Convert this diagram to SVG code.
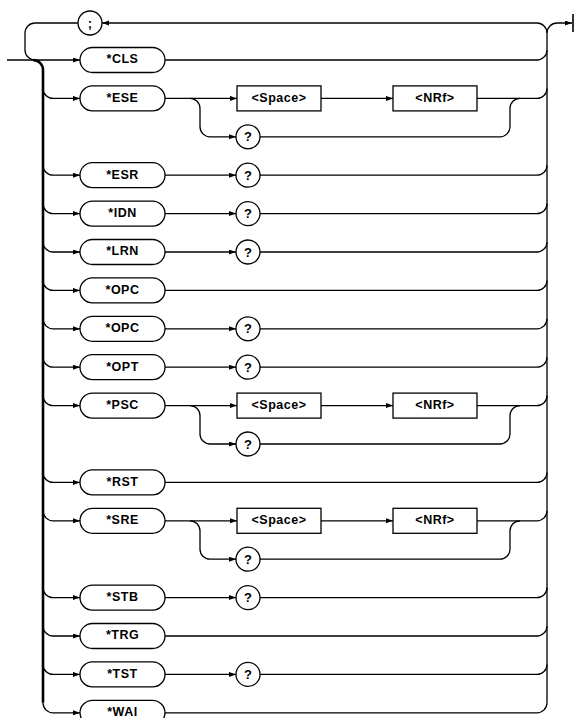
<svg xmlns="http://www.w3.org/2000/svg" width="574" height="718" viewBox="0 0 574 718">
<defs>
<marker id="ah" markerUnits="userSpaceOnUse" markerWidth="8" markerHeight="6" refX="7" refY="2.5" orient="auto">
<path d="M0,0 L7,2.5 L0,5 z" fill="#000"/>
</marker>
<style>
.c{fill:none;stroke:#000;stroke-width:1.3}
.a{marker-end:url(#ah)}
.n{fill:#fff;stroke:#000;stroke-width:1.3}
.t{font-family:"Liberation Sans",Arial,sans-serif;font-weight:bold;font-size:12.5px;letter-spacing:0.5px;text-anchor:middle;fill:#000}
.q{font-family:"Liberation Sans",Arial,sans-serif;font-weight:bold;font-size:13px;text-anchor:middle;fill:#000}
</style>
</defs>
<rect width="574" height="718" fill="#fff"/>
<g id="connectors">
<path class="c a" d="M7,60 L80,60"/>
<path class="c a" d="M537,23 L102,23"/>
<path class="c" d="M78,23 L35,23 A10,10 0 0 0 25,33 L25,50 A10,10 0 0 0 35,60"/>
<path class="c" d="M537,23 A10,10 0 0 1 547,33 L547,702.8"/>
<path class="c a" d="M547,33 A10,10 0 0 1 557,23 L572,23"/>
<path class="c" style="stroke-width:1.6" d="M573,14 L573,32"/>
<path class="c" style="stroke-width:2.6" d="M33,60 A10,10 0 0 1 43,70 L43,702.8"/>
<path class="c a" d="M43,88.4 A10,10 0 0 0 53,98.4 L80,98.4"/>
<path class="c a" d="M43,165.2 A10,10 0 0 0 53,175.2 L80,175.2"/>
<path class="c a" d="M43,203.6 A10,10 0 0 0 53,213.6 L80,213.6"/>
<path class="c a" d="M43,242 A10,10 0 0 0 53,252 L80,252"/>
<path class="c a" d="M43,280.4 A10,10 0 0 0 53,290.4 L80,290.4"/>
<path class="c a" d="M43,318.8 A10,10 0 0 0 53,328.8 L80,328.8"/>
<path class="c a" d="M43,357.2 A10,10 0 0 0 53,367.2 L80,367.2"/>
<path class="c a" d="M43,395.6 A10,10 0 0 0 53,405.6 L80,405.6"/>
<path class="c a" d="M43,472.4 A10,10 0 0 0 53,482.4 L80,482.4"/>
<path class="c a" d="M43,510.8 A10,10 0 0 0 53,520.8 L80,520.8"/>
<path class="c a" d="M43,587.6 A10,10 0 0 0 53,597.6 L80,597.6"/>
<path class="c a" d="M43,626 A10,10 0 0 0 53,636 L80,636"/>
<path class="c a" d="M43,664.4 A10,10 0 0 0 53,674.4 L80,674.4"/>
<path class="c a" d="M43,702.8 A10,10 0 0 0 53,712.8 L80,712.8"/>
<path class="c" d="M165,60 L537,60 A10,10 0 0 0 547,50"/>
<path class="c" d="M165,290.4 L537,290.4 A10,10 0 0 0 547,280.4"/>
<path class="c" d="M165,482.4 L537,482.4 A10,10 0 0 0 547,472.4"/>
<path class="c" d="M165,636 L537,636 A10,10 0 0 0 547,626"/>
<path class="c" d="M165,712.8 L537,712.8 A10,10 0 0 0 547,702.8"/>
<path class="c a" d="M165,175.2 L236,175.2"/>
<path class="c" d="M260,175.2 L537,175.2 A10,10 0 0 0 547,165.2"/>
<path class="c a" d="M165,213.6 L236,213.6"/>
<path class="c" d="M260,213.6 L537,213.6 A10,10 0 0 0 547,203.6"/>
<path class="c a" d="M165,252 L236,252"/>
<path class="c" d="M260,252 L537,252 A10,10 0 0 0 547,242"/>
<path class="c a" d="M165,328.8 L236,328.8"/>
<path class="c" d="M260,328.8 L537,328.8 A10,10 0 0 0 547,318.8"/>
<path class="c a" d="M165,367.2 L236,367.2"/>
<path class="c" d="M260,367.2 L537,367.2 A10,10 0 0 0 547,357.2"/>
<path class="c a" d="M165,597.6 L236,597.6"/>
<path class="c" d="M260,597.6 L537,597.6 A10,10 0 0 0 547,587.6"/>
<path class="c a" d="M165,674.4 L236,674.4"/>
<path class="c" d="M260,674.4 L537,674.4 A10,10 0 0 0 547,664.4"/>
<path class="c a" d="M165,98.4 L237,98.4"/>
<path class="c a" d="M321,98.4 L393,98.4"/>
<path class="c" d="M477,98.4 L537,98.4 A10,10 0 0 0 547,88.4"/>
<path class="c a" d="M190,98.4 A10,10 0 0 1 200,108.4 L200,126.8 A10,10 0 0 0 210,136.8 L236,136.8"/>
<path class="c" d="M260,136.8 L500,136.8 A10,10 0 0 0 510,126.8 L510,108.4 A10,10 0 0 1 520,98.4"/>
<path class="c a" d="M165,405.6 L237,405.6"/>
<path class="c a" d="M321,405.6 L393,405.6"/>
<path class="c" d="M477,405.6 L537,405.6 A10,10 0 0 0 547,395.6"/>
<path class="c a" d="M190,405.6 A10,10 0 0 1 200,415.6 L200,434 A10,10 0 0 0 210,444 L236,444"/>
<path class="c" d="M260,444 L500,444 A10,10 0 0 0 510,434 L510,415.6 A10,10 0 0 1 520,405.6"/>
<path class="c a" d="M165,520.8 L237,520.8"/>
<path class="c a" d="M321,520.8 L393,520.8"/>
<path class="c" d="M477,520.8 L537,520.8 A10,10 0 0 0 547,510.8"/>
<path class="c a" d="M190,520.8 A10,10 0 0 1 200,530.8 L200,549.2 A10,10 0 0 0 210,559.2 L236,559.2"/>
<path class="c" d="M260,559.2 L500,559.2 A10,10 0 0 0 510,549.2 L510,530.8 A10,10 0 0 1 520,520.8"/>
</g>
<g id="semicolon"><circle class="n" cx="90" cy="23" r="12"/><text class="q" x="90" y="27.5">;</text></g>
<g id="cls"><rect class="n" x="80" y="47.5" width="85" height="25" rx="12.5"/><text class="t" x="122.5" y="63.3">*CLS</text></g>
<g id="ese"><rect class="n" x="80" y="85.9" width="85" height="25" rx="12.5"/><text class="t" x="122.5" y="101.7">*ESE</text></g>
<g id="ese-space"><rect class="n" x="237" y="85.9" width="84" height="25"/><text class="t" x="279" y="101.7">&lt;Space&gt;</text></g>
<g id="ese-nrf"><rect class="n" x="393" y="85.9" width="84" height="25"/><text class="t" x="435" y="101.7">&lt;NRf&gt;</text></g>
<g id="ese-q"><circle class="n" cx="248" cy="136.8" r="12"/><text class="q" x="248" y="141.3">?</text></g>
<g id="esr"><rect class="n" x="80" y="162.7" width="85" height="25" rx="12.5"/><text class="t" x="122.5" y="178.5">*ESR</text></g>
<g id="esr-q"><circle class="n" cx="248" cy="175.2" r="12"/><text class="q" x="248" y="179.7">?</text></g>
<g id="idn"><rect class="n" x="80" y="201.1" width="85" height="25" rx="12.5"/><text class="t" x="122.5" y="216.9">*IDN</text></g>
<g id="idn-q"><circle class="n" cx="248" cy="213.6" r="12"/><text class="q" x="248" y="218.1">?</text></g>
<g id="lrn"><rect class="n" x="80" y="239.5" width="85" height="25" rx="12.5"/><text class="t" x="122.5" y="255.3">*LRN</text></g>
<g id="lrn-q"><circle class="n" cx="248" cy="252" r="12"/><text class="q" x="248" y="256.5">?</text></g>
<g id="opc"><rect class="n" x="80" y="277.9" width="85" height="25" rx="12.5"/><text class="t" x="122.5" y="293.7">*OPC</text></g>
<g id="opc2"><rect class="n" x="80" y="316.3" width="85" height="25" rx="12.5"/><text class="t" x="122.5" y="332.1">*OPC</text></g>
<g id="opc2-q"><circle class="n" cx="248" cy="328.8" r="12"/><text class="q" x="248" y="333.3">?</text></g>
<g id="opt"><rect class="n" x="80" y="354.7" width="85" height="25" rx="12.5"/><text class="t" x="122.5" y="370.5">*OPT</text></g>
<g id="opt-q"><circle class="n" cx="248" cy="367.2" r="12"/><text class="q" x="248" y="371.7">?</text></g>
<g id="psc"><rect class="n" x="80" y="393.1" width="85" height="25" rx="12.5"/><text class="t" x="122.5" y="408.9">*PSC</text></g>
<g id="psc-space"><rect class="n" x="237" y="393.1" width="84" height="25"/><text class="t" x="279" y="408.9">&lt;Space&gt;</text></g>
<g id="psc-nrf"><rect class="n" x="393" y="393.1" width="84" height="25"/><text class="t" x="435" y="408.9">&lt;NRf&gt;</text></g>
<g id="psc-q"><circle class="n" cx="248" cy="444" r="12"/><text class="q" x="248" y="448.5">?</text></g>
<g id="rst"><rect class="n" x="80" y="469.9" width="85" height="25" rx="12.5"/><text class="t" x="122.5" y="485.7">*RST</text></g>
<g id="sre"><rect class="n" x="80" y="508.3" width="85" height="25" rx="12.5"/><text class="t" x="122.5" y="524.1">*SRE</text></g>
<g id="sre-space"><rect class="n" x="237" y="508.3" width="84" height="25"/><text class="t" x="279" y="524.1">&lt;Space&gt;</text></g>
<g id="sre-nrf"><rect class="n" x="393" y="508.3" width="84" height="25"/><text class="t" x="435" y="524.1">&lt;NRf&gt;</text></g>
<g id="sre-q"><circle class="n" cx="248" cy="559.2" r="12"/><text class="q" x="248" y="563.7">?</text></g>
<g id="stb"><rect class="n" x="80" y="585.1" width="85" height="25" rx="12.5"/><text class="t" x="122.5" y="600.9">*STB</text></g>
<g id="stb-q"><circle class="n" cx="248" cy="597.6" r="12"/><text class="q" x="248" y="602.1">?</text></g>
<g id="trg"><rect class="n" x="80" y="623.5" width="85" height="25" rx="12.5"/><text class="t" x="122.5" y="639.3">*TRG</text></g>
<g id="tst"><rect class="n" x="80" y="661.9" width="85" height="25" rx="12.5"/><text class="t" x="122.5" y="677.7">*TST</text></g>
<g id="tst-q"><circle class="n" cx="248" cy="674.4" r="12"/><text class="q" x="248" y="678.9">?</text></g>
<g id="wai"><rect class="n" x="80" y="700.3" width="85" height="25" rx="12.5"/><text class="t" x="122.5" y="715.8">*WAI</text></g>
</svg>
